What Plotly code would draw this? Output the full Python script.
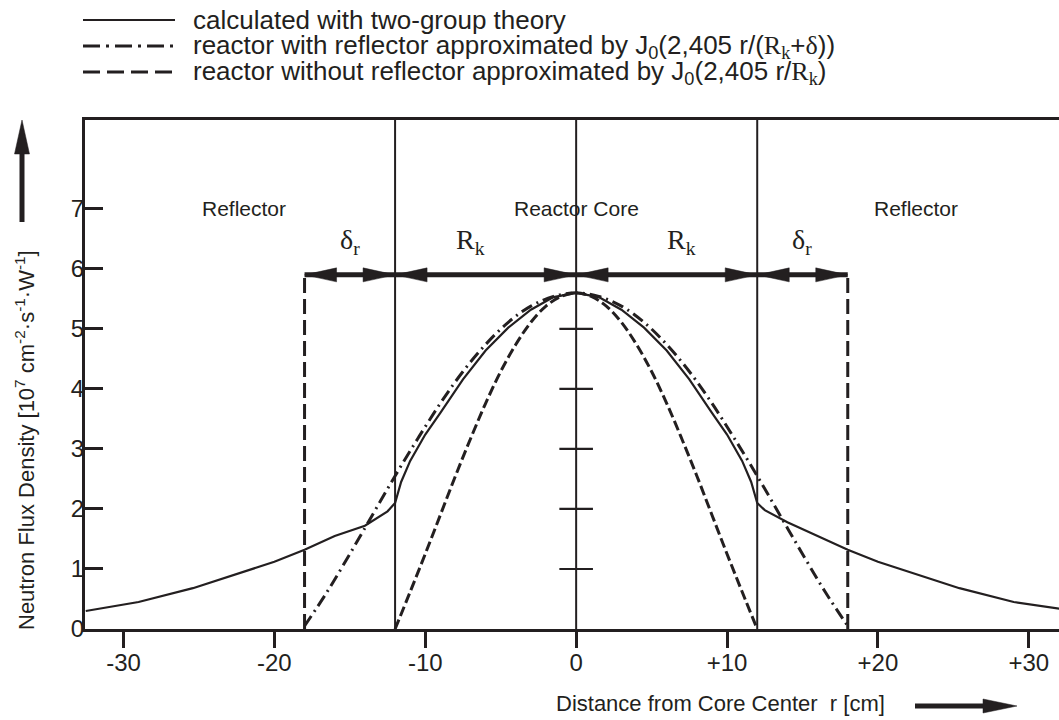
import plotly.graph_objects as go

# ---------------- data ----------------
R_K = 12.0          # core radius [cm]
DELTA_R = 6.0       # reflector savings [cm]
ARROW_Y = 5.9       # height of the dimension arrows

# two-group theory (solid)
r_two_group = [-32.5, -29, -25.4, -22.5, -20, -18, -16, -14, -12.5, -12, -11.6, -11, -10, -9, -7.5, -6,
               -4.5, -3, -1.5, 0, 1.5, 3, 4.5, 6, 7.5, 9, 10, 11, 11.6, 12, 12.5, 14, 16, 18, 20, 22.5,
               25.4, 29, 32.5]
phi_two_group = [0.30, 0.45, 0.68, 0.92, 1.12, 1.32, 1.55, 1.72, 1.96, 2.10, 2.45, 2.80, 3.24, 3.60, 4.16, 4.64,
                 5.02, 5.32, 5.53, 5.60, 5.53, 5.32, 5.02, 4.64, 4.16, 3.60, 3.24, 2.80, 2.45, 2.10, 1.98, 1.78,
                 1.55, 1.32, 1.12, 0.92, 0.68, 0.45, 0.32]

# reactor with reflector, J0 approximation (dash-dot)
r_refl = [-18, -16.5, -15, -13.5, -12, -10.5, -9, -7.5, -6, -4.5, -3, -1.5, 0,
          1.5, 3, 4.5, 6, 7.5, 9, 10.5, 12, 13.5, 15, 16.5, 18]
phi_refl = [0.05, 0.62, 1.25, 1.90, 2.55, 3.17, 3.76, 4.29, 4.74, 5.11, 5.38, 5.54, 5.60,
            5.54, 5.38, 5.11, 4.74, 4.29, 3.76, 3.17, 2.55, 1.90, 1.25, 0.62, 0.05]

# reactor without reflector, J0 approximation (dashed)
r_bare = [-12, -11, -10, -9, -8, -7, -6, -5, -4, -3, -2, -1, 0, 1, 2, 3, 4, 5, 6, 7, 8, 9, 10, 11, 12]
phi_bare = [0.0, 0.62, 1.25, 1.90, 2.55, 3.17, 3.76, 4.29, 4.74, 5.11, 5.38, 5.54, 5.60,
            5.54, 5.38, 5.11, 4.74, 4.29, 3.76, 3.17, 2.55, 1.90, 1.25, 0.62, 0.0]

x_tickvals = [-30, -20, -10, 0, 10, 20, 30]
x_ticktext = ["-30", "-20", "-10", "0", "+10", "+20", "+30"]
y_tickvals = [0, 1, 2, 3, 4, 5, 6, 7]
center_ticks = [1, 2, 3, 4, 5]

region_labels = ["Reflector", "Reactor Core", "Reflector"]
region_x = [-22.0, 0.0, 22.5]
region_y = 7.0

legend_texts = [
    "calculated with two-group theory",
    "reactor with reflector approximated by J<sub>0</sub>(2,405 r/(<span style='font-family:Liberation Serif'>R<sub>k</sub></span>+<span style='font-family:Liberation Serif'>δ</span>))",
    "reactor without reflector approximated by J<sub>0</sub>(2,405 r/<span style='font-family:Liberation Serif'>R<sub>k</sub></span>)",
]

# ---------------- layout helpers ----------------
W, H = 1059, 720
ML, MR, MT, MB = 85, 0, 120, 91
PW, PH = W - ML - MR, H - MT - MB
INK = "#231f20"
FONT = "Liberation Sans, Arial, sans-serif"
SERIF = "Liberation Serif, Times New Roman, serif"


def px_x(px):
    return (px - ML) / PW


def px_y(py):
    return (H - MB - py) / PH


fig = go.Figure()

fig.add_trace(go.Scatter(x=r_two_group, y=phi_two_group, mode="lines", name="calculated with two-group theory",
                         line=dict(color=INK, width=2.2), showlegend=False))
fig.add_trace(go.Scatter(x=r_refl, y=phi_refl, mode="lines", name="reactor with reflector",
                         line=dict(color=INK, width=3, dash="12px,5px,2px,5px", shape="spline"), showlegend=False))
fig.add_trace(go.Scatter(x=r_bare, y=phi_bare, mode="lines", name="reactor without reflector",
                         line=dict(color=INK, width=3, dash="10px,4px", shape="spline"), showlegend=False))
fig.add_trace(go.Scatter(x=[0] * len(center_ticks), y=center_ticks, mode="markers", showlegend=False,
                         hoverinfo="skip",
                         marker=dict(symbol="line-ew", size=24, line=dict(color=INK, width=2.2))))

shapes = []
for xv in [-R_K, 0.0, R_K]:
    shapes.append(dict(type="line", xref="x", yref="paper", x0=xv, x1=xv, y0=0, y1=1,
                       line=dict(color=INK, width=2)))
for xv in [-(R_K + DELTA_R), R_K + DELTA_R]:
    shapes.append(dict(type="line", xref="x", yref="y", x0=xv, x1=xv, y0=0, y1=ARROW_Y,
                       line=dict(color=INK, width=3, dash="15px,6px")))
shapes.append(dict(type="line", xref="x", yref="y", x0=-(R_K + DELTA_R), x1=R_K + DELTA_R,
                   y0=ARROW_Y, y1=ARROW_Y, line=dict(color=INK, width=5)))
segments = [(-(R_K + DELTA_R), -R_K), (-R_K, 0.0), (0.0, R_K), (R_K, R_K + DELTA_R)]
HEAD_L, HEAD_W = 32, 7
for a, b in segments:
    shapes.append(dict(type="path", xref="x", yref="y", xsizemode="pixel", ysizemode="pixel",
                       xanchor=a, yanchor=ARROW_Y,
                       path=f"M0,0 L{HEAD_L},{HEAD_W} L{HEAD_L},{-HEAD_W} Z",
                       fillcolor=INK, line=dict(color=INK, width=0.5)))
    shapes.append(dict(type="path", xref="x", yref="y", xsizemode="pixel", ysizemode="pixel",
                       xanchor=b, yanchor=ARROW_Y,
                       path=f"M0,0 L{-HEAD_L},{HEAD_W} L{-HEAD_L},{-HEAD_W} Z",
                       fillcolor=INK, line=dict(color=INK, width=0.5)))

# legend samples
leg_rows = [20, 46, 72]
leg_dash = ["solid", "17px,6px,3px,6px", "17px,7px"]
leg_width = [2.2, 3, 3]
for yy, d, w in zip(leg_rows, leg_dash, leg_width):
    shapes.append(dict(type="line", xref="paper", yref="paper", x0=px_x(83), x1=px_x(175),
                       y0=px_y(yy), y1=px_y(yy), line=dict(color=INK, width=w, dash=d)))

# vertical axis arrow (left)
shapes.append(dict(type="line", xref="paper", yref="paper", x0=px_x(22), x1=px_x(22),
                   y0=px_y(222), y1=px_y(150), line=dict(color=INK, width=5)))
shapes.append(dict(type="path", xref="paper", yref="paper", xsizemode="pixel", ysizemode="pixel",
                   xanchor=px_x(22), yanchor=px_y(120),
                   path="M0,0 L-7.5,-34 L7.5,-34 Z", fillcolor=INK, line=dict(color=INK, width=0.5)))
# horizontal axis arrow (bottom right)
shapes.append(dict(type="line", xref="paper", yref="paper", x0=px_x(915), x1=px_x(990),
                   y0=px_y(706), y1=px_y(706), line=dict(color=INK, width=5)))
shapes.append(dict(type="path", xref="paper", yref="paper", xsizemode="pixel", ysizemode="pixel",
                   xanchor=px_x(1017), yanchor=px_y(706),
                   path="M0,0 L-34,7 L-34,-7 Z", fillcolor=INK, line=dict(color=INK, width=0.5)))

annotations = []
for t, xv in zip(region_labels, region_x):
    annotations.append(dict(x=xv, y=region_y, xref="x", yref="y", text=t, showarrow=False,
                            font=dict(family=FONT, size=21, color=INK)))
for xv, t in [(-(R_K + DELTA_R / 2), "δ<sub>r</sub>"), (-R_K / 2 - 1, "R<sub>k</sub>"),
              (R_K / 2 + 1, "R<sub>k</sub>"), (R_K + DELTA_R / 2, "δ<sub>r</sub>")]:
    annotations.append(dict(x=xv, y=6.45, xref="x", yref="y", text=t, showarrow=False,
                            font=dict(family=SERIF, size=28, color=INK)))
for t, yy in zip(legend_texts, leg_rows):
    annotations.append(dict(x=px_x(191), y=px_y(yy), xref="paper", yref="paper", text=t,
                            showarrow=False, xanchor="left", yanchor="middle",
                            font=dict(family=FONT, size=26, color=INK)))
annotations.append(dict(x=px_x(25), y=px_y(440), xref="paper", yref="paper", textangle=-90,
                        xanchor="center", yanchor="middle",
                        text="Neutron Flux Density [10<sup>7</sup> cm<sup>-2</sup>·s<sup>-1</sup>·W<sup>-1</sup>]",
                        showarrow=False, font=dict(family=FONT, size=22, color=INK)))
annotations.append(dict(x=px_x(720), y=px_y(703), xref="paper", yref="paper",
                        xanchor="center", yanchor="middle",
                        text="Distance from Core Center  r [cm]", showarrow=False,
                        font=dict(family=FONT, size=22, color=INK)))

fig.update_layout(
    width=W, height=H,
    margin=dict(l=ML, r=MR, t=MT, b=MB),
    paper_bgcolor="white", plot_bgcolor="white",
    shapes=shapes, annotations=annotations,
    showlegend=False,
    font=dict(family=FONT, color=INK),
)
fig.update_xaxes(range=[-32.55, 32.0], tickvals=x_tickvals, ticktext=x_ticktext,
                 ticks="outside", ticklen=16, tickwidth=2.5, tickcolor=INK, ticklabelstandoff=-6,
                 showline=True, linewidth=3, linecolor=INK, mirror=True,
                 showgrid=False, zeroline=False, tickfont=dict(family=FONT, size=24, color=INK))
fig.update_yaxes(range=[0, 8.48], tickvals=y_tickvals,
                 ticks="inside", ticklen=18, tickwidth=2.5, tickcolor=INK, ticklabelstandoff=-7,
                 showline=True, linewidth=3, linecolor=INK, mirror=False,
                 showgrid=False, zeroline=False, tickfont=dict(family=FONT, size=24, color=INK))

fig.write_html("out.html", config={"displayModeBar": False},
               post_script="document.body.style.margin='0px';")
